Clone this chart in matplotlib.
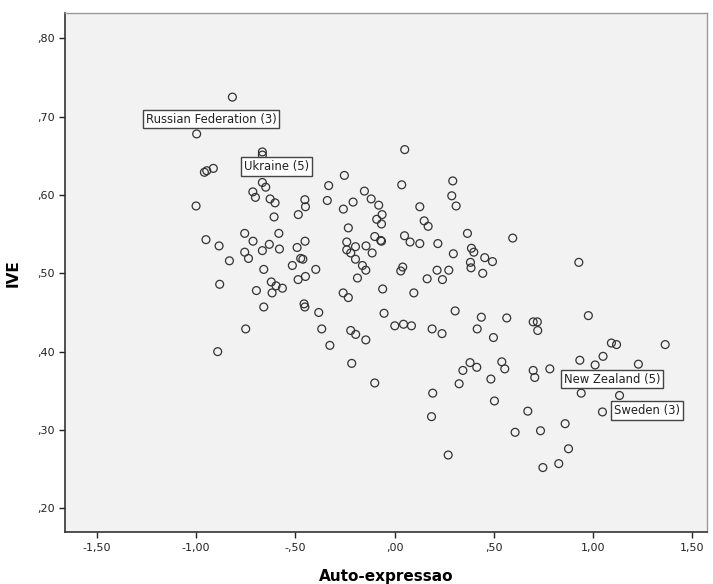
import matplotlib.pyplot as plt

# Auto-expressao (x) and IVE (y)
auto_expressao = [
    -0.817, -0.997, -0.666, -0.666, -0.958, -0.946, -0.913, -0.253, -0.666, -0.649,
    -0.332, -0.714, -0.701, -0.627, -0.602, -0.452, -0.449, -0.339, -1.000, -0.258,
    -0.607, -0.485, -0.233, -0.950, -0.884, -0.755, -0.713, -0.583, -0.631, -0.580,
    -0.666, -0.755, -0.736, -0.832, -0.491, -0.451, -0.473, -0.462, -0.515, -0.397,
    -0.659, -0.881, -0.621, -0.597, -0.565, -0.696, -0.617, -0.486, -0.449, -0.259,
    -0.233, -0.659, -0.456, -0.452, -0.382, -0.750, -0.367, -0.326, -0.891,
    0.051, -0.152, -0.118, -0.080, -0.063, -0.090, -0.066, -0.209, 0.036, 0.127,
    0.149, 0.169, 0.293, 0.288, 0.310,
    -0.241, -0.241, -0.197, -0.221, -0.197, -0.162, -0.145, -0.187, -0.144, -0.113,
    -0.100, -0.070, -0.066, -0.060, -0.053, -0.221, -0.196, -0.145, 0.050, 0.078,
    0.127, 0.041, 0.031, 0.097, 0.001, 0.045, 0.085, 0.218, 0.296, 0.214,
    0.273, 0.164, 0.241, 0.367, 0.387, 0.399, 0.382, 0.385, 0.454, 0.493,
    0.444, 0.595, 0.305, 0.189, 0.239, 0.437, 0.416, 0.498, 0.565,
    0.928, 0.698, 0.719, 0.721, 0.976, 1.092, 1.118, 1.363, 1.050, 0.933,
    1.010, 1.228, 0.380, 0.414, 0.344, 0.540, 0.555, 0.325, 0.485, 0.698,
    0.706, 0.782, 0.940, 1.133, 1.047, 0.503, 0.671, 0.859, 0.607, 0.735,
    0.876, 0.827, 0.747, 0.270,
    -0.216, -0.100, 0.192, 0.186,
]
ive = [
    0.725, 0.678, 0.655, 0.651, 0.629, 0.631, 0.634, 0.625, 0.616, 0.610,
    0.612, 0.604, 0.597, 0.595, 0.590, 0.594, 0.585, 0.593, 0.586, 0.582,
    0.572, 0.575, 0.558, 0.543, 0.535, 0.551, 0.541, 0.551, 0.537, 0.531,
    0.529, 0.527, 0.519, 0.516, 0.533, 0.541, 0.519, 0.518, 0.510, 0.505,
    0.505, 0.486, 0.489, 0.484, 0.481, 0.478, 0.475, 0.492, 0.496, 0.475,
    0.469, 0.457, 0.461, 0.457, 0.450, 0.429, 0.429, 0.408, 0.400,
    0.658, 0.605, 0.595, 0.587, 0.575, 0.569, 0.563, 0.591, 0.613, 0.585,
    0.567, 0.560, 0.618, 0.599, 0.586,
    0.540, 0.530, 0.534, 0.526, 0.518, 0.510, 0.504, 0.494, 0.535, 0.526,
    0.547, 0.542, 0.541, 0.480, 0.449, 0.427, 0.422, 0.415, 0.548, 0.540,
    0.538, 0.508, 0.503, 0.475, 0.433, 0.435, 0.433, 0.538, 0.525, 0.504,
    0.504, 0.493, 0.492, 0.551, 0.532, 0.527, 0.514, 0.507, 0.520, 0.515,
    0.500, 0.545, 0.452, 0.429, 0.423, 0.444, 0.429, 0.418, 0.443,
    0.514, 0.438, 0.438, 0.427, 0.446, 0.411, 0.409, 0.409, 0.394, 0.389,
    0.383, 0.384, 0.386, 0.380, 0.376, 0.387, 0.378, 0.359, 0.365, 0.376,
    0.367, 0.378, 0.347, 0.344, 0.323, 0.337, 0.324, 0.308, 0.297, 0.299,
    0.276, 0.257, 0.252, 0.268,
    0.385, 0.360, 0.347, 0.317,
]

# point labels (countries) and where their boxes sit
label_names = ['Russian Federation (3)', 'Ukraine (5)', 'New Zealand (5)', 'Sweden (3)']
label_x = [-0.925, -0.597, 1.096, 1.272]
label_y = [0.697, 0.636, 0.365, 0.325]

xticks = [-1.5, -1.0, -0.5, 0.0, 0.5, 1.0, 1.5]
xtick_labels = ['-1,50', '-1,00', '-,50', ',00', ',50', '1,00', '1,50']
yticks = [0.2, 0.3, 0.4, 0.5, 0.6, 0.7, 0.8]
ytick_labels = [',20', ',30', ',40', ',50', ',60', ',70', ',80']

fig = plt.figure(figsize=(7.13, 5.84), dpi=100)
ax = fig.add_axes([0.0912, 0.0885, 0.9005, 0.8887])
ax.set_facecolor('#f2f2f2')

ax.scatter(auto_expressao, ive, s=32, facecolors='none', edgecolors='#333333',
           linewidths=0.9, zorder=3)

for name, lx, ly in zip(label_names, label_x, label_y):
    ax.text(lx, ly, name, fontsize=8.4, ha='center', va='center', zorder=4,
            color='#222222',
            bbox=dict(boxstyle='square,pad=0.25', facecolor='white',
                      edgecolor='#444444', linewidth=1))

ax.set_xlim(-1.66, 1.574)
ax.set_ylim(0.1693, 0.832)
ax.set_xticks(xticks)
ax.set_xticklabels(xtick_labels)
ax.set_yticks(yticks)
ax.set_yticklabels(ytick_labels)
ax.tick_params(direction='out', length=4, width=1, labelsize=8, colors='#222222')

for side in ['left', 'bottom']:
    ax.spines[side].set_color('#333333')
    ax.spines[side].set_linewidth(1.2)
for side in ['top', 'right']:
    ax.spines[side].set_color('#999999')
    ax.spines[side].set_linewidth(1.0)

ax.set_xlabel('Auto-expressao', fontsize=11, fontweight='bold', labelpad=12)
ax.set_ylabel('IVE', fontsize=11, fontweight='bold', labelpad=12)

fig.savefig('out.png', dpi=100)
